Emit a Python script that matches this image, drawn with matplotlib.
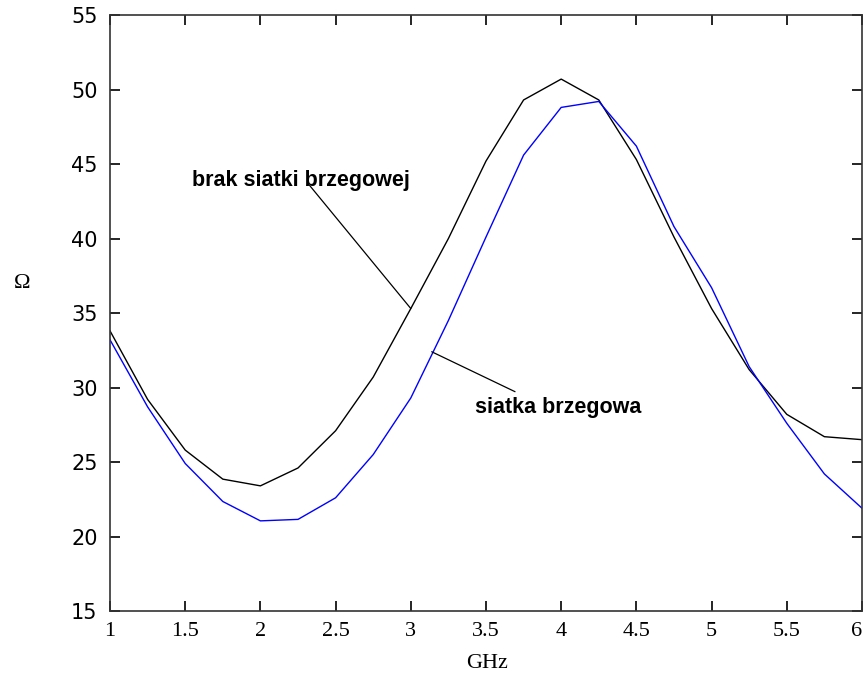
import matplotlib.pyplot as plt

# Częstotliwość [GHz] i impedancja [Ohm]
ghz = [1.0, 1.25, 1.5, 1.75, 2.0, 2.25, 2.5, 2.75, 3.0, 3.25, 3.5,
       3.75, 4.0, 4.25, 4.5, 4.75, 5.0, 5.25, 5.5, 5.75, 6.0]
brak_siatki = [33.8, 29.2, 25.8, 23.85, 23.4, 24.6, 27.1, 30.7, 35.3, 40.0, 45.2,
               49.3, 50.7, 49.3, 45.3, 40.1, 35.3, 31.2, 28.2, 26.7, 26.5]
siatka = [33.2, 28.7, 24.9, 22.35, 21.05, 21.15, 22.6, 25.5, 29.3, 34.5, 40.1,
          45.6, 48.8, 49.2, 46.2, 40.8, 36.7, 31.4, 27.6, 24.2, 21.9]
xticks = [1, 1.5, 2, 2.5, 3, 3.5, 4, 4.5, 5, 5.5, 6]
xtick_labels = ['1', '1.5', '2', '2.5', '3', '3.5', '4', '4.5', '5', '5.5', '6']
yticks = [15, 20, 25, 30, 35, 40, 45, 50, 55]

fig = plt.figure(figsize=(8.65, 6.83), dpi=100)
ax = fig.add_axes([0.1272, 0.1054, 0.8693, 0.8726])

ax.plot(ghz, brak_siatki, color='black', linewidth=1.0)
ax.plot(ghz, siatka, color='#0000ff', linewidth=1.0)

ax.set_xlim(1, 6)
ax.set_ylim(15, 55)
ax.set_xticks(xticks)
ax.set_xticklabels(xtick_labels, family='Liberation Serif', fontsize=16)
# ostatnia etykieta przy samej krawędzi rysunku
ax.get_xticklabels()[-1].set_horizontalalignment('right')
ax.set_yticks(yticks)
ax.set_yticklabels([str(v) for v in yticks], family='DejaVu Sans', fontsize=15)
ax.tick_params(direction='in', length=7, width=1.2, top=True, right=True, pad=8)
ax.tick_params(axis='y', pad=9)
for s in ax.spines.values():
    s.set_linewidth(1.2)
    s.set_color('#333333')

# opisy krzywych
ax.text(1.543, 43.9, 'brak siatki brzegowej', family='Liberation Sans',
        fontweight='bold', fontsize=15.5, va='center', ha='left')
ax.annotate('', xy=(3.0, 35.3), xytext=(2.316, 43.7),
            arrowprops=dict(arrowstyle='-', color='black', lw=0.9, shrinkA=0, shrinkB=0))
ax.text(3.427, 28.63, 'siatka brzegowa', family='Liberation Sans',
        fontweight='bold', fontsize=15.5, va='center', ha='left')
ax.annotate('', xy=(3.139, 32.4), xytext=(3.693, 29.72),
            arrowprops=dict(arrowstyle='-', color='black', lw=0.9, shrinkA=0, shrinkB=0))

fig.text(487 / 865, 1 - 663 / 683, 'GHz', family='Liberation Serif', fontsize=16,
         ha='center', va='center')
fig.text(22 / 865, 1 - 283 / 683, 'Ω', family='Liberation Serif', fontsize=16,
         ha='center', va='center')

fig.savefig('out.png', dpi=100)
